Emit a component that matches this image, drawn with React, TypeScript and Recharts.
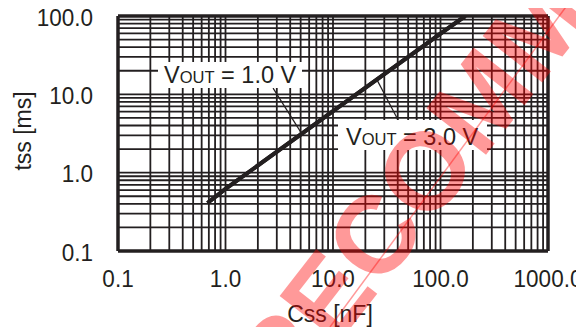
import React from 'react';
import { LineChart, Line, XAxis, YAxis, ReferenceLine } from 'recharts';

// axis ticks
const xTicks = [0.1, 1, 10, 100, 1000];
const xTickLabels = ['0.1', '1.0', '10.0', '100.0', '1000.0'];
const yTicks = [0.1, 1, 10, 100];
const yTickLabels = ['0.1', '1.0', '10.0', '100.0'];

// log grid lines (1..9 per decade)
const xGrid = [
  0.1, 0.2, 0.3, 0.4, 0.5, 0.6, 0.7, 0.8, 0.9,
  1, 2, 3, 4, 5, 6, 7, 8, 9,
  10, 20, 30, 40, 50, 60, 70, 80, 90,
  100, 200, 300, 400, 500, 600, 700, 800, 900,
  1000,
];
const yGrid = [
  0.1, 0.2, 0.3, 0.4, 0.5, 0.6, 0.7, 0.8, 0.9,
  1, 2, 3, 4, 5, 6, 7, 8, 9,
  10, 20, 30, 40, 50, 60, 70, 80, 90,
  100,
];

// Css [nF] vs tss [ms]; both VOUT curves lie on top of each other
const cssNf = [0.68, 1, 10, 100, 170];
const tssVout1 = [0.41, 0.62, 6.1, 59.5, 100];
const tssVout3 = [0.41, 0.62, 6.1, 59.5, 100];

// leader lines from the labels to the curve
const leader1 = [{ x: 2.77, y: 12 }, { x: 5.15, y: 3.1 }];
const leader3 = [{ x: 25.6, y: 15.4 }, { x: 40.3, y: 4.7 }];

const data = cssNf.map((c, i) => ({ c, v1: tssVout1[i], v3: tssVout3[i] }));

const INK = '#231f20';
const FONT = '"Liberation Sans", Arial, sans-serif';

const XTick = ({ x, y, payload }: any) => (
  <text
    transform={`translate(${x},${y}) scale(1,1.08)`}
    textAnchor="middle"
    dy="0.71em"
    fill={INK}
    fontSize={22.5}
    fontFamily={FONT}
  >
    {xTickLabels[xTicks.indexOf(payload.value)]}
  </text>
);

const YTick = ({ x, y, payload }: any) => (
  <text
    transform={`translate(${x},${y + 1}) scale(1,1.08)`}
    textAnchor="end"
    dy="0.355em"
    fill={INK}
    fontSize={22.5}
    fontFamily={FONT}
  >
    {yTickLabels[yTicks.indexOf(payload.value)]}
  </text>
);

const App = () => {
  return (
    <div style={{ position: 'relative', width: 576, height: 319, fontFamily: FONT }}>
      <LineChart width={576} height={319} data={data} margin={{ top: 8, right: 36, bottom: 0, left: 0 }}>
        <XAxis
          dataKey="c"
          type="number"
          scale="log"
          domain={[0.1, 1000]}
          allowDataOverflow
          ticks={xTicks}
          interval={0}
          axisLine={false}
          tickLine={false}
          tickSize={0}
          tickMargin={19}
          height={76}
          tick={<XTick />}
        />
        <YAxis
          type="number"
          scale="log"
          domain={[0.1, 100]}
          allowDataOverflow
          ticks={yTicks}
          interval={0}
          axisLine={false}
          tickLine={false}
          tickSize={0}
          tickMargin={25}
          width={110}
          tick={<YTick />}
        />
        {xGrid.map((v, i) => (
          <ReferenceLine
            key={'x' + v}
            x={v}
            stroke={INK}
            strokeWidth={i === 0 || i === xGrid.length - 1 ? 3.5 : 1.8}
          />
        ))}
        {yGrid.map((v, i) => (
          <ReferenceLine
            key={'y' + v}
            y={v}
            stroke={INK}
            strokeWidth={i === 0 || i === yGrid.length - 1 ? 3.5 : 1.8}
          />
        ))}
        <ReferenceLine segment={leader1} stroke={INK} strokeWidth={1.2} />
        <ReferenceLine segment={leader3} stroke={INK} strokeWidth={1.2} />
        <Line dataKey="v1" stroke={INK} strokeWidth={4} dot={false} isAnimationActive={false} />
        <Line dataKey="v3" stroke={INK} strokeWidth={4} dot={false} isAnimationActive={false} />
      </LineChart>

      <svg
        width={576}
        height={319}
        style={{ position: 'absolute', left: 0, top: 0, pointerEvents: 'none' }}
      >
        <g fill={INK} fontFamily={FONT}>
          <rect x={150} y={54} width={144} height={26} fill="#fff" />
          <text x={156} y={75} fontSize={23.5}>
            V<tspan fontSize={16.5}>OUT</tspan> = 1.0 V
          </text>
          <rect x={330} y={112} width={149} height={30} fill="#fff" />
          <text x={338} y={137} fontSize={23.5}>
            V<tspan fontSize={16.5}>OUT</tspan> = 3.0 V
          </text>
          <text transform="translate(23,123) rotate(-90)" textAnchor="middle" fontSize={23}>
            tss [ms]
          </text>
          <text x={322} y={314} textAnchor="middle" fontSize={23}>
            Css [nF]
          </text>
        </g>
        {/* watermark */}
        <g fill="#ff0000" fillOpacity={0.4}>
          <text
            transform="translate(116,610) rotate(-52)"
            fontSize={110}
            fontWeight="bold"
            fontFamily={FONT}
          >
            NOT RECOMMENDED FOR NEW DESIGN
          </text>
        </g>
        <line x1={563} y1={-8} x2={322} y2={319} stroke="#ff0000" strokeOpacity={0.4} strokeWidth={1.5} />
      </svg>
    </div>
  );
};

export default App;
